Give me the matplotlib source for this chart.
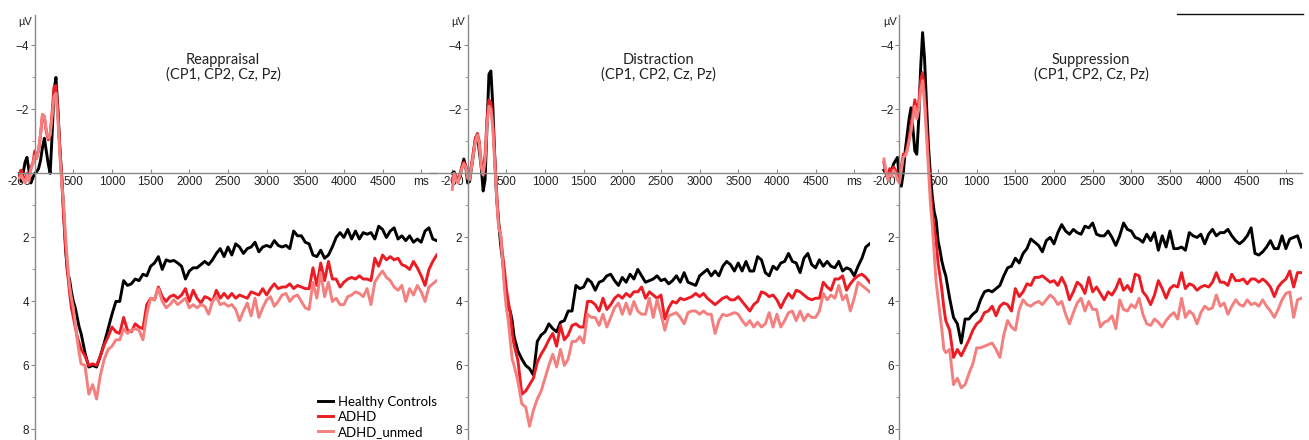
import numpy as np
import matplotlib.pyplot as plt
from matplotlib.lines import Line2D

# sample times (ms): finer steps around the early peaks
times = np.concatenate([np.arange(-200, 600, 25), np.arange(600, 5201, 50)])

group_names = ['Healthy Controls', 'ADHD', 'ADHD_unmed']
group_colors = ['#000000', '#ec1c24', '#f47f7f']
titles = ['Reappraisal', 'Distraction', 'Suppression']
subtitle = '(CP1, CP2, Cz, Pz)'

xtick_vals = [-200, 500, 1000, 1500, 2000, 2500, 3000, 3500, 4000, 4500, 5000]
xtick_text = ['-200', '500', '1000', '1500', '2000', '2500', '3000', '3500', '4000', '4500', 'ms']
ytick_major = [-4, -2, 2, 4, 6, 8]
ytick_minor = [-3, -1, 1, 3, 5, 7]

# Reappraisal
reap_hc = [0.0, 0.25, 0.0, -0.35, -0.5, -0.1, 0.3, 0.15, 0.0, -0.05, -0.15, -0.4, -0.8, -1.1, -0.7, -0.3,
           0.0, -1.2, -2.6, -3.0, -2.0, -0.8, 0.1, 1.2, 2.4, 3.1, 3.3, 3.7, 4.0, 4.2, 4.5, 4.8,
           5.0, 5.6, 6.05, 6.0, 6.05, 5.7, 5.3, 4.85, 4.4, 4.0,
           4.0, 3.35, 3.5, 3.45, 3.3, 3.35, 3.15, 3.2, 2.9, 2.8,
           2.6, 3.0, 2.7, 2.75, 2.72, 2.8, 2.9, 3.3, 3.05, 2.95,
           2.95, 2.85, 2.75, 2.85, 2.7, 2.5, 2.35, 2.6, 2.3, 2.55,
           2.2, 2.3, 2.5, 2.35, 2.3, 2.15, 2.45, 2.3, 2.25, 2.3,
           2.1, 2.25, 2.3, 2.25, 2.35, 1.8, 1.95, 1.95, 2.15, 2.2,
           2.55, 2.6, 2.4, 2.65, 2.55, 2.3, 2.0, 1.85, 2.0, 1.75,
           2.05, 1.8, 2.05, 1.85, 1.9, 1.85, 2.05, 1.65, 1.75, 2.0,
           1.8, 1.7, 2.05, 1.95, 2.1, 1.95, 2.15, 2.05, 2.15, 1.8,
           1.7, 2.05, 2.1]
reap_adhd = [0.1, -0.1, 0.1, 0.2, 0.0, 0.15, -0.2, -0.3, -0.7, -0.5, -0.7, -1.2, -1.8, -1.75, -1.3, -1.05,
             -1.2, -1.9, -2.7, -2.75, -1.9, -0.8, 0.2, 1.4, 2.3, 3.1, 3.7, 4.2, 4.5, 4.8, 5.1, 5.3,
             5.5, 5.7, 6.0, 5.95, 6.0, 5.7, 5.35, 5.1, 4.8, 4.95,
             5.0, 4.5, 4.9, 4.95, 4.7, 4.8, 4.85, 4.1, 3.9, 3.95,
             3.55, 3.85, 4.0, 3.85, 3.8, 3.9, 3.8, 3.6, 4.0, 3.65,
             3.9, 4.05, 3.85, 3.9, 4.0, 3.65, 3.9, 3.75, 3.9, 3.75,
             3.9, 3.8, 3.85, 3.9, 3.7, 3.75, 3.8, 3.6, 3.8, 3.6,
             3.45, 3.6, 3.55, 3.55, 3.45, 3.6, 3.5, 3.55, 3.6, 3.6,
             2.95, 3.5, 2.8, 3.35, 2.75, 3.3, 3.3, 3.55, 3.4, 3.3,
             3.25, 3.3, 3.2, 3.3, 3.3, 3.35, 2.65, 2.9, 2.55, 2.7,
             2.6, 2.7, 2.65, 2.85, 2.9, 3.0, 2.75, 2.95, 3.2, 3.5,
             3.0, 2.75, 2.55]
reap_unmed = [0.15, 0.05, 0.2, 0.3, 0.05, 0.25, -0.1, -0.3, -0.55, -0.45, -0.75, -1.2, -1.85, -1.8, -1.35, -1.1,
              -1.2, -1.8, -2.4, -2.5, -1.7, -0.6, 0.3, 1.0, 2.0, 2.8, 3.5, 3.9, 4.2, 4.7, 5.2, 5.6,
              5.95, 6.0, 6.9, 6.6, 7.05, 6.3, 5.8, 5.5, 5.4, 5.2,
              5.2, 4.85, 5.0, 4.9, 4.85, 4.9, 5.2, 4.4, 3.9, 3.95,
              3.6, 4.0, 4.2, 4.1, 3.95, 4.1, 4.0, 3.9, 4.2, 4.1,
              4.2, 4.1, 4.15, 4.4, 4.0, 3.85, 4.1, 4.05, 4.15, 4.1,
              4.25, 4.6, 4.3, 4.05, 4.45, 3.9, 4.5, 4.2, 3.95, 3.85,
              4.15, 4.0, 3.8, 3.75, 4.0, 3.85, 3.8, 4.0, 4.2, 4.25,
              3.4, 3.9, 3.1, 3.85, 3.4, 4.0, 3.9, 4.1, 4.1, 3.85,
              3.8, 3.7, 3.75, 3.85, 3.6, 4.1, 3.4, 3.2, 3.05, 3.25,
              3.35, 3.55, 3.65, 3.5, 4.0, 3.6, 3.8, 3.5, 3.7, 4.0,
              3.55, 3.45, 3.35]

# Distraction
dist_hc = [0.0, -0.05, 0.15, 0.25, 0.1, -0.2, -0.45, -0.2, 0.3, 0.25, -0.2, -0.6, -1.1, -1.2, -0.7, -0.2,
           0.55, 0.2, -1.5, -3.1, -3.2, -2.1, -0.5, 0.8, 1.5, 2.2, 2.7, 3.3, 3.9, 4.2, 4.3, 4.6,
           5.1, 5.55, 5.8, 6.0, 6.1, 6.3, 5.25, 5.05, 4.95, 4.7,
           4.85, 4.95, 4.65, 4.6, 4.3, 4.3, 3.5, 3.6, 3.55, 3.3,
           3.4, 3.65, 3.4, 3.35, 3.2, 3.15, 3.35, 3.5, 3.25, 3.4,
           3.15, 3.3, 3.0, 3.2, 3.4, 3.35, 3.3, 3.2, 3.35, 3.3,
           3.45, 3.35, 3.2, 3.4, 3.1, 3.4, 3.45, 3.5, 3.2, 3.1,
           3.0, 3.2, 3.05, 3.2, 2.9, 2.75, 2.85, 3.05, 2.8, 3.05,
           2.75, 3.05, 3.05, 2.6, 2.7, 3.1, 3.2, 2.9, 3.0, 2.8,
           2.75, 2.5, 2.75, 2.8, 3.1, 2.65, 2.5, 2.85, 2.95, 2.7,
           2.9, 2.75, 2.9, 2.95, 2.75, 3.05, 2.95, 3.0, 3.2, 2.9,
           2.65, 2.3, 2.2]
dist_adhd = [0.2, 0.0, 0.1, 0.2, 0.0, -0.2, -0.35, -0.25, 0.05, 0.1, -0.3, -0.7, -1.1, -1.25, -1.0, -0.3,
             -0.1, -0.6, -1.7, -2.3, -2.2, -1.6, -0.5, 0.6, 1.6, 1.9, 2.5, 3.0, 3.6, 4.0, 4.35, 5.0,
             5.35, 5.85, 6.9, 6.8, 6.6, 6.4, 5.9, 5.65, 5.45, 5.2,
             5.0, 5.4, 4.75, 5.2, 5.05, 4.75, 4.7, 4.8, 4.8, 4.0,
             4.0, 4.1, 4.3, 3.9, 4.25, 4.1, 3.9, 3.8, 3.9, 3.75,
             3.85, 3.7, 3.7, 3.55, 3.9, 3.7, 3.8, 3.9, 3.8, 4.55,
             4.2, 4.0, 4.05, 3.9, 3.95, 3.9, 3.85, 3.75, 3.85, 3.75,
             3.9, 4.0, 4.1, 4.0, 3.9, 3.85, 3.95, 3.95, 3.85, 4.0,
             4.15, 4.3, 4.1, 4.0, 3.7, 3.75, 3.85, 3.8, 3.95, 4.2,
             3.95, 3.75, 3.9, 3.65, 3.7, 3.8, 3.9, 3.95, 3.9, 3.9,
             3.4, 3.55, 3.65, 3.3, 3.3, 3.2, 3.65, 3.45, 3.3, 3.2,
             3.15, 3.25, 3.4]
dist_unmed = [0.5, 0.0, 0.2, 0.3, 0.05, -0.15, -0.3, -0.2, 0.15, 0.2, -0.2, -0.6, -1.0, -1.2, -0.9, -0.2,
              0.05, -0.4, -1.5, -2.1, -2.0, -1.4, -0.3, 0.8, 1.7, 1.9, 2.7, 3.6, 4.2, 4.6, 5.2, 5.8,
              6.0, 6.5, 7.2, 7.3, 7.9, 7.4, 7.05, 6.8, 6.4, 6.0,
              5.65, 6.05, 5.5, 6.0, 5.8, 5.25, 5.25, 5.1, 5.3, 4.4,
              4.5, 4.5, 4.75, 4.4, 4.8, 4.5, 4.2, 4.05, 4.4, 4.05,
              4.4, 4.0, 4.3, 4.4, 4.4, 3.9, 4.5, 3.95, 4.4, 4.9,
              4.45, 4.4, 4.35, 4.5, 4.7, 4.35, 4.3, 4.3, 4.4, 4.3,
              4.4, 4.4, 5.0, 4.6, 4.4, 4.45, 4.4, 4.35, 4.4, 4.6,
              4.75, 4.6, 4.8, 4.65, 4.8, 4.7, 4.35, 4.8, 4.4, 4.8,
              4.6, 4.35, 4.3, 4.6, 4.3, 4.6, 4.4, 4.5, 4.5, 4.3,
              3.75, 3.95, 3.8, 3.9, 3.5, 3.95, 3.8, 4.3, 3.9, 3.4,
              3.5, 3.6, 3.7]

# Suppression
supp_hc = [-0.1, 0.0, 0.15, 0.1, -0.1, -0.3, -0.4, -0.5, 0.2, 0.4, 0.0, -0.7, -1.2, -1.7, -2.05, -1.4,
           -0.7, -0.6, -1.7, -3.3, -4.4, -3.6, -2.2, -0.9, 0.0, 0.7, 1.2, 1.45, 2.1, 2.4, 2.75, 3.0,
           3.2, 3.9, 4.5, 4.7, 5.3, 4.55, 4.55, 4.4, 4.3, 3.95,
           3.7, 3.65, 3.7, 3.6, 3.5, 3.2, 2.95, 2.9, 2.65, 2.8,
           2.5, 2.35, 2.05, 2.15, 2.25, 2.45, 2.1, 2.0, 2.2, 1.85,
           1.6, 1.8, 1.9, 1.75, 1.85, 1.9, 1.65, 1.7, 1.55, 1.9,
           1.95, 1.95, 1.8, 2.0, 2.25, 1.95, 1.55, 1.75, 1.8, 2.0,
           2.05, 2.15, 1.9, 2.1, 1.85, 2.4, 1.95, 2.3, 1.8, 2.35,
           2.35, 2.3, 2.4, 1.85, 1.95, 2.0, 1.9, 2.2, 1.9, 1.75,
           1.95, 1.85, 1.85, 1.75, 1.95, 2.1, 2.2, 2.1, 1.95, 1.7,
           2.5, 2.55, 2.45, 2.3, 2.1, 2.35, 2.35, 1.95, 2.35, 2.05,
           2.0, 1.95, 2.3]
supp_adhd = [-0.35, 0.0, 0.1, -0.15, 0.0, -0.2, -0.1, 0.05, 0.2, -0.2, -0.6, -0.6, -0.8, -1.1, -1.5, -1.9,
             -2.3, -1.9, -2.2, -2.9, -3.15, -2.5, -1.5, -0.5, 0.5, 1.2, 1.7, 2.1, 2.8, 3.2, 3.65, 4.2,
             4.6, 4.9, 5.75, 5.5, 5.7, 5.45, 5.2, 4.9, 4.7, 4.6,
             4.35, 4.3, 4.15, 4.45, 4.15, 4.05, 4.1, 4.3, 3.6, 3.85,
             3.7, 3.45, 3.5, 3.25, 3.25, 3.2, 3.3, 3.4, 3.35, 3.5,
             3.25, 3.5, 3.95, 3.7, 3.4, 3.5, 3.75, 3.25, 3.7, 3.55,
             3.75, 3.95, 3.7, 3.8, 3.6, 3.3, 3.65, 3.5, 3.7, 3.15,
             3.2, 3.7, 3.85, 4.1, 3.8, 3.35, 3.6, 3.9, 3.6, 3.5,
             3.55, 3.1, 3.6, 3.45, 3.5, 3.65, 3.55, 3.5, 3.55, 3.4,
             3.1, 3.4, 3.4, 3.5, 3.15, 3.35, 3.35, 3.3, 3.45, 3.3,
             3.3, 3.4, 3.3, 3.4, 3.55, 3.85, 3.55, 3.4, 3.3, 3.05,
             3.55, 3.1, 3.1]
supp_unmed = [-0.45, -0.1, 0.2, 0.0, 0.1, -0.1, 0.0, 0.2, 0.3, -0.1, -0.5, -0.55, -0.7, -1.0, -1.3, -1.7,
              -2.1, -1.7, -2.0, -2.6, -2.9, -2.2, -1.2, -0.2, 0.9, 1.6, 2.5, 3.4, 3.9, 4.4, 4.9, 5.5,
              5.6, 5.5, 6.6, 6.4, 6.7, 6.6, 6.25, 5.95, 5.45, 5.45,
              5.4, 5.35, 5.3, 5.5, 5.75, 5.05, 4.6, 4.8, 4.9, 4.25,
              3.95, 4.1, 4.15, 4.05, 4.0, 4.1, 3.95, 3.8, 3.9, 4.1,
              4.0, 4.4, 4.7, 4.35, 4.05, 3.9, 4.3, 4.0, 4.25, 4.25,
              4.8, 4.65, 4.6, 4.45, 4.85, 3.95, 4.25, 4.3, 4.1, 4.2,
              3.9, 4.4, 4.7, 4.75, 4.55, 4.65, 4.8, 4.6, 4.45, 4.35,
              4.55, 3.9, 4.5, 4.3, 4.4, 4.7, 4.35, 4.15, 4.25, 4.2,
              3.8, 4.15, 4.05, 4.4, 4.15, 3.95, 4.1, 4.15, 3.95, 4.1,
              4.05, 4.15, 3.95, 4.15, 4.3, 4.5, 4.25, 3.95, 3.75, 3.7,
              4.5, 3.95, 3.9]

panel_data = [(reap_hc, reap_adhd, reap_unmed),
              (dist_hc, dist_adhd, dist_unmed),
              (supp_hc, supp_adhd, supp_unmed)]

W, H = 1309, 440
fig = plt.figure(figsize=(W / 100, H / 100), dpi=100)

# layout in pixels: position of the 0 ms line, left x limit, title centre
zero_px = [34.7, 467.7, 899.4]
xmins = [-215, -490, -510]
title_px = [223, 658, 1091]
px_per_ms = 0.0773
xmax = 5205
ytop, ybot = -4.95, 8.33

axes = []
for i in range(3):
    left = zero_px[i] + px_per_ms * xmins[i]
    right = zero_px[i] + px_per_ms * xmax
    ax = fig.add_axes([left / W, 0, (right - left) / W, (H - 15) / H])
    ax.patch.set_alpha(0)
    for series, col in zip(panel_data[i], group_colors):
        ax.plot(times, series, color=col, lw=2.1, solid_joinstyle='round')
    ax.set_xlim(xmins[i], xmax)
    ax.set_ylim(ybot, ytop)
    for s in ['top', 'right']:
        ax.spines[s].set_visible(False)
    ax.spines['left'].set_position(('data', 0))
    ax.spines['bottom'].set_position(('data', 0))
    for s in ['left', 'bottom']:
        ax.spines[s].set_color('#8a8a8a')
        ax.spines[s].set_linewidth(1.0)
    ax.set_xticks(xtick_vals)
    ax.set_xticklabels(xtick_text)
    ax.set_yticks(ytick_major)
    ax.set_yticks(ytick_minor, minor=True)
    ax.tick_params(axis='x', direction='in', length=3, pad=2, colors='#8a8a8a',
                   labelcolor='#222222', labelsize=8.5)
    ax.tick_params(axis='y', which='major', direction='out', length=3, pad=1,
                   colors='#8a8a8a', labelcolor='#222222', labelsize=8.5)
    ax.tick_params(axis='y', which='minor', direction='out', length=2, colors='#8a8a8a')
    for lab in ax.get_xticklabels() + ax.get_yticklabels():
        lab.set_family('Liberation Sans')
    ax.annotate('µV', xy=(0, 1), xycoords=('data', 'axes fraction'), xytext=(-2, -5),
                textcoords='offset points', ha='right', va='center', fontsize=8,
                family='Liberation Sans', color='#222222')
    fig.text(title_px[i] / W, 1 - 60 / H, titles[i], ha='center', va='center',
             family='Lato', fontsize=10.5, color='#222222')
    fig.text(title_px[i] / W, 1 - 75 / H, subtitle, ha='center', va='center',
             family='Lato', fontsize=10.5, color='#222222')
    axes.append(ax)

handles = [Line2D([], [], color=c, lw=2.1) for c in group_colors]
axes[0].legend(handles, group_names, loc='upper left', bbox_to_anchor=(318 / W, 1 - 396 / H),
               bbox_transform=fig.transFigure, frameon=False, borderpad=0, borderaxespad=0,
               handlelength=1.15, handletextpad=0.35, labelspacing=0.22,
               prop={'family': 'Lato', 'size': 9.5})

# thin rule at the top right of the source figure
fig.add_artist(Line2D([1177 / W, 1303 / W], [1 - 14 / H, 1 - 14 / H], color='#111111', lw=1.0))

fig.savefig('out.png', dpi=100)
